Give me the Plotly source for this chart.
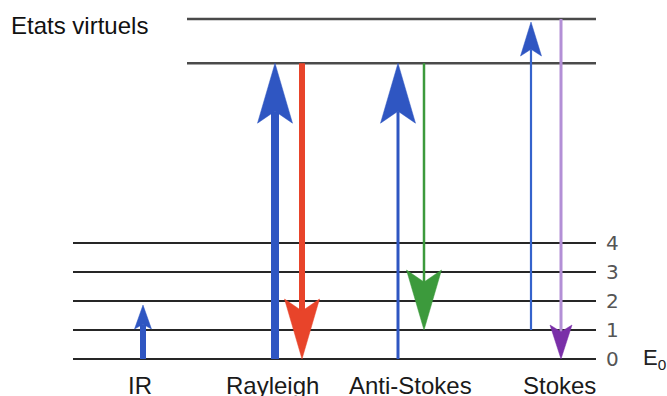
import plotly.graph_objects as go

# ---------------- data ----------------
vib_levels = [0, 1, 2, 3, 4]
vib_labels = ["0", "1", "2", "3", "4"]
virtual_levels = [10.2, 11.72]

process_names = ["IR", "Rayleigh", "Anti-Stokes", "Stokes"]
process_x = [140, 272, 410, 559]

# transitions: x position, start energy, end energy
trans_x = [143, 275, 302, 398, 424, 531, 561]
trans_from = [0, 0, 10.2, 0, 10.2, 1, 11.72]
trans_to = [1.86, 10.2, 0, 10.2, 1, 11.62, 0]

# ---------------- styles ----------------
trans_shaft_color = ["#2f56c2", "#2f56c2", "#e8442a", "#2f56c2", "#3c9a3c", "#3563cc", "#b38fd6"]
trans_head_color = ["#2f56c2", "#2f56c2", "#e8442a", "#2f56c2", "#3c9a3c", "#2f56c2", "#7a2fa8"]
trans_shaft_w = [6, 8, 6, 3, 2.5, 2.2, 3]
trans_head_w = [17, 35, 35, 35, 35, 21, 22]   # px (x units)
trans_head_len = [24, 60, 60, 60, 60, 34, 34]  # px

PX = 29.0  # pixels per energy unit
y0_px = 359.0
H, W = 396, 667
y_min = (y0_px - H) / PX
y_max = y0_px / PX

fig = go.Figure()

# level lines
for e in vib_levels:
    fig.add_trace(go.Scatter(x=[73, 596], y=[e, e], mode="lines",
                             line=dict(color="#262626", width=2.2),
                             hoverinfo="skip", showlegend=False))
for e in virtual_levels:
    fig.add_trace(go.Scatter(x=[187, 596], y=[e, e], mode="lines",
                             line=dict(color="#4a4a4a", width=2.5),
                             hoverinfo="skip", showlegend=False))

# arrows
for i in range(len(trans_x)):
    x = trans_x[i]
    a, b = trans_from[i], trans_to[i]
    d = 1 if b > a else -1
    L = trans_head_len[i] / PX
    hw = trans_head_w[i] / 2.0
    base = b - d * L
    notch = b - d * L * 0.8
    fig.add_trace(go.Scatter(x=[x, x], y=[a, notch], mode="lines",
                             line=dict(color=trans_shaft_color[i], width=trans_shaft_w[i]),
                             hoverinfo="skip", showlegend=False))
    fig.add_trace(go.Scatter(x=[x, x + hw, x, x - hw, x],
                             y=[b, base, notch, base, b],
                             mode="lines", fill="toself",
                             fillcolor=trans_head_color[i],
                             line=dict(color=trans_head_color[i], width=0.5),
                             hoverinfo="skip", showlegend=False))

FONT = "Liberation Sans, Arial, sans-serif"
annotations = []
for e, lab in zip(vib_levels, vib_labels):
    annotations.append(dict(x=612, y=e, text=lab, showarrow=False,
                            font=dict(family="DejaVu Sans, sans-serif", size=20, color="#555555"),
                            xanchor="center", yanchor="middle"))
annotations.append(dict(x=641, y=0, text="E<sub>0</sub>", showarrow=False,
                        font=dict(family=FONT, size=22, color="#222222"),
                        xanchor="left", yanchor="middle"))
for name, px in zip(process_names, process_x):
    annotations.append(dict(x=px, y=(y0_px - 385) / PX, text=name, showarrow=False,
                            font=dict(family=FONT, size=24, color="#1a1a1a"),
                            xanchor="center", yanchor="middle"))
annotations.append(dict(x=9, y=(y0_px - 25) / PX, text="Etats virtuels", showarrow=False,
                        font=dict(family=FONT, size=24, color="#111111"),
                        xanchor="left", yanchor="middle"))

fig.update_layout(
    width=W, height=H,
    margin=dict(l=0, r=0, t=0, b=0),
    paper_bgcolor="white", plot_bgcolor="white",
    xaxis=dict(range=[0, W], visible=False, fixedrange=True),
    yaxis=dict(range=[y_min, y_max], visible=False, fixedrange=True),
    annotations=annotations,
    showlegend=False,
)

fig.write_html("out.html", config={"displayModeBar": False})
with open("out.html", "r", encoding="utf-8") as f:
    html = f.read()
html = html.replace("<body>", '<body style="margin:0;padding:0;overflow:hidden">', 1)
with open("out.html", "w", encoding="utf-8") as f:
    f.write(html)
